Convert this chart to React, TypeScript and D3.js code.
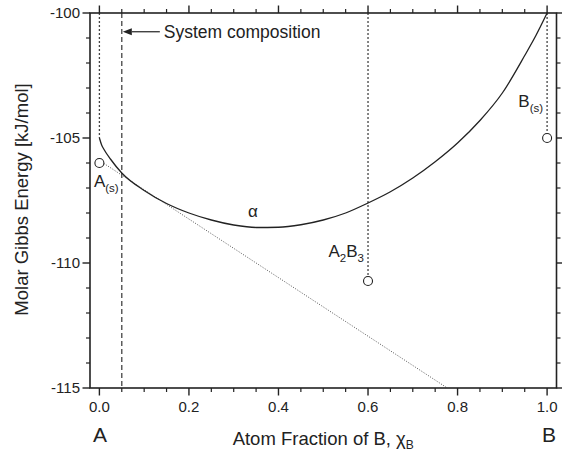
import React from "react";
import * as d3 from "d3";

// ---- data ----
const alphaX = [0, 0.005, 0.01, 0.025, 0.05, 0.1, 0.15, 0.2, 0.25, 0.3, 0.35, 0.4, 0.45, 0.5, 0.55, 0.6, 0.65, 0.7, 0.75, 0.8, 0.85, 0.9, 0.95, 0.975, 1.0];
const alphaG = [-105, -105.28, -105.45, -105.85, -106.4, -107.1, -107.62, -108.0, -108.28, -108.48, -108.58, -108.57, -108.47, -108.28, -108.0, -107.6, -107.15, -106.6, -105.95, -105.2, -104.3, -103.2, -101.7, -100.9, -100];

const tangentX = [0, 0.777];
const tangentG = [-105.9, -115];

const phaseNames = ["A", "A2B3", "B"];
const phaseX = [0, 0.6, 1.0];
const phaseG = [-106.0, -110.72, -105.0];

const systemX = 0.05;
const arrowFromX = 0.135;
const arrowG = -100.75;

const xMajor = [0, 0.2, 0.4, 0.6, 0.8, 1.0];
const xMajorLabels = ["0.0", "0.2", "0.4", "0.6", "0.8", "1.0"];
const yMajor = [-100, -105, -110, -115];
const yMajorLabels = ["-100", "-105", "-110", "-115"];

const W = 562;
const H = 454;
const FONT = "'Liberation Sans', Arial, Helvetica, sans-serif";
const INK = "#222";

export default function App() {
  const left = 90, right = 556.5, top = 13, bottom = 388;
  const x = d3.scaleLinear().domain([-0.021, 1.021]).range([left, right]);
  const y = d3.scaleLinear().domain([-115, -100]).range([bottom, top]);

  const xMinor = d3.range(0, 1.0001, 0.05).filter((v) => !xMajor.some((m) => Math.abs(m - v) < 1e-6));
  const yMinor = d3.range(-115, -99.999, 1).filter((v) => !yMajor.some((m) => Math.abs(m - v) < 1e-6));

  const alphaPts = alphaX.map((v, i) => [v, alphaG[i]] as [number, number]);
  const alphaPath = d3
    .line<[number, number]>()
    .x((d) => x(d[0]))
    .y((d) => y(d[1]))
    .curve(d3.curveMonotoneX)(alphaPts) as string;

  const tangentPath = d3
    .line<number>()
    .x((d, i) => x(tangentX[i]))
    .y((d) => y(d))(tangentG) as string;

  const r = 4.5;
  const tickMaj = 7.5;
  const tickMin = 4;

  return (
    <svg width={W} height={H} style={{ position: "absolute", left: 0, top: 0 }} fontFamily={FONT}>
      <rect x={0} y={0} width={W} height={H} fill="#fff" />

      {/* drop lines for pure phases / compound */}
      {phaseX.map((px, i) => {
        const endG = i === 0 ? alphaG[0] : phaseG[i];
        return (
          <line
            key={"drop" + i}
            x1={x(px)}
            x2={x(px)}
            y1={y(-100)}
            y2={i === 0 ? y(endG) : y(endG) - r}
            stroke="#444"
            strokeWidth={1.3}
            strokeDasharray="2,2"
          />
        );
      })}

      {/* system composition dashed line */}
      <line x1={x(systemX)} x2={x(systemX)} y1={y(-100)} y2={y(-115)} stroke="#444" strokeWidth={1.3} strokeDasharray="5,3" />

      {/* tangent line */}
      <path d={tangentPath} fill="none" stroke="#555" strokeWidth={1} strokeDasharray="1,1.6" />

      {/* alpha curve */}
      <path d={alphaPath} fill="none" stroke={INK} strokeWidth={1.3} />

      {/* phase points */}
      {phaseX.map((px, i) => (
        <circle key={"pt" + i} cx={x(px)} cy={y(phaseG[i])} r={r} fill="#fff" stroke={INK} strokeWidth={1.1} />
      ))}

      {/* arrow + annotation */}
      <line x1={x(arrowFromX)} x2={x(systemX) + 10} y1={y(arrowG)} y2={y(arrowG)} stroke={INK} strokeWidth={1.2} />
      <path
        d={`M${x(systemX) + 1},${y(arrowG)} L${x(systemX) + 10},${y(arrowG) - 3.5} L${x(systemX) + 10},${y(arrowG) + 3.5} Z`}
        fill={INK}
      />
      <text x={x(arrowFromX) + 4} y={y(arrowG) + 6} fontSize={17.5} fill={INK}>
        System composition
      </text>

      {/* phase labels */}
      <text x={x(phaseX[0]) - 5.5} y={y(phaseG[0]) + 23.5} fontSize={17} fill={INK}>
        {phaseNames[0]}
        <tspan fontSize={11.5} dy={5}>(s)</tspan>
      </text>
      <text x={x(phaseX[1]) - 4} y={y(phaseG[1]) - 24} fontSize={17} fill={INK} textAnchor="end">
        A<tspan fontSize={11.5} dy={5}>2</tspan>
        <tspan dy={-5}>B</tspan>
        <tspan fontSize={11.5} dy={5}>3</tspan>
      </text>
      <text x={x(phaseX[2]) - 4} y={y(phaseG[2]) - 31} fontSize={17} fill={INK} textAnchor="end">
        {phaseNames[2]}
        <tspan fontSize={11.5} dy={5}>(s)</tspan>
      </text>
      <text x={x(0.343)} y={y(-108.15)} fontSize={17} fill={INK} textAnchor="middle">
        α
      </text>

      {/* frame */}
      <rect x={left} y={top} width={right - left} height={bottom - top} fill="none" stroke={INK} strokeWidth={1.6} />

      {/* x ticks bottom & top */}
      {xMajor.map((v, i) => (
        <g key={"xM" + i}>
          <line x1={x(v)} x2={x(v)} y1={bottom} y2={bottom + tickMaj} stroke={INK} strokeWidth={1.4} />
          <line x1={x(v)} x2={x(v)} y1={top} y2={top - tickMaj} stroke={INK} strokeWidth={1.4} />
          <text x={x(v)} y={bottom + 24} fontSize={15} textAnchor="middle" fill={INK}>
            {xMajorLabels[i]}
          </text>
        </g>
      ))}
      {xMinor.map((v, i) => (
        <g key={"xm" + i}>
          <line x1={x(v)} x2={x(v)} y1={bottom} y2={bottom + tickMin} stroke={INK} strokeWidth={1.2} />
          <line x1={x(v)} x2={x(v)} y1={top} y2={top - tickMin} stroke={INK} strokeWidth={1.2} />
        </g>
      ))}

      {/* y ticks left & right */}
      {yMajor.map((v, i) => (
        <g key={"yM" + i}>
          <line x1={left} x2={left - tickMaj} y1={y(v)} y2={y(v)} stroke={INK} strokeWidth={1.4} />
          <line x1={right} x2={right + tickMaj} y1={y(v)} y2={y(v)} stroke={INK} strokeWidth={1.4} />
          <text x={left - 10} y={y(v)} dy="0.35em" fontSize={15} textAnchor="end" fill={INK}>
            {yMajorLabels[i]}
          </text>
        </g>
      ))}
      {yMinor.map((v, i) => (
        <g key={"ym" + i}>
          <line x1={left} x2={left - tickMin} y1={y(v)} y2={y(v)} stroke={INK} strokeWidth={1.2} />
          <line x1={right} x2={right + tickMin} y1={y(v)} y2={y(v)} stroke={INK} strokeWidth={1.2} />
        </g>
      ))}

      {/* component labels */}
      <text x={x(0) + 0.5} y={442} fontSize={21} textAnchor="middle" fill={INK}>A</text>
      <text x={x(1) + 2} y={442} fontSize={21} textAnchor="middle" fill={INK}>B</text>

      {/* axis titles */}
      <text x={(left + right) / 2} y={445} fontSize={18.5} textAnchor="middle" fill={INK}>
        Atom Fraction of B, χ<tspan fontSize={12} dy={4}>B</tspan>
      </text>
      <text transform={`translate(28,${(top + bottom) / 2 - 1}) rotate(-90)`} fontSize={18.5} textAnchor="middle" fill={INK}>
        Molar Gibbs Energy [kJ/mol]
      </text>
    </svg>
  );
}
